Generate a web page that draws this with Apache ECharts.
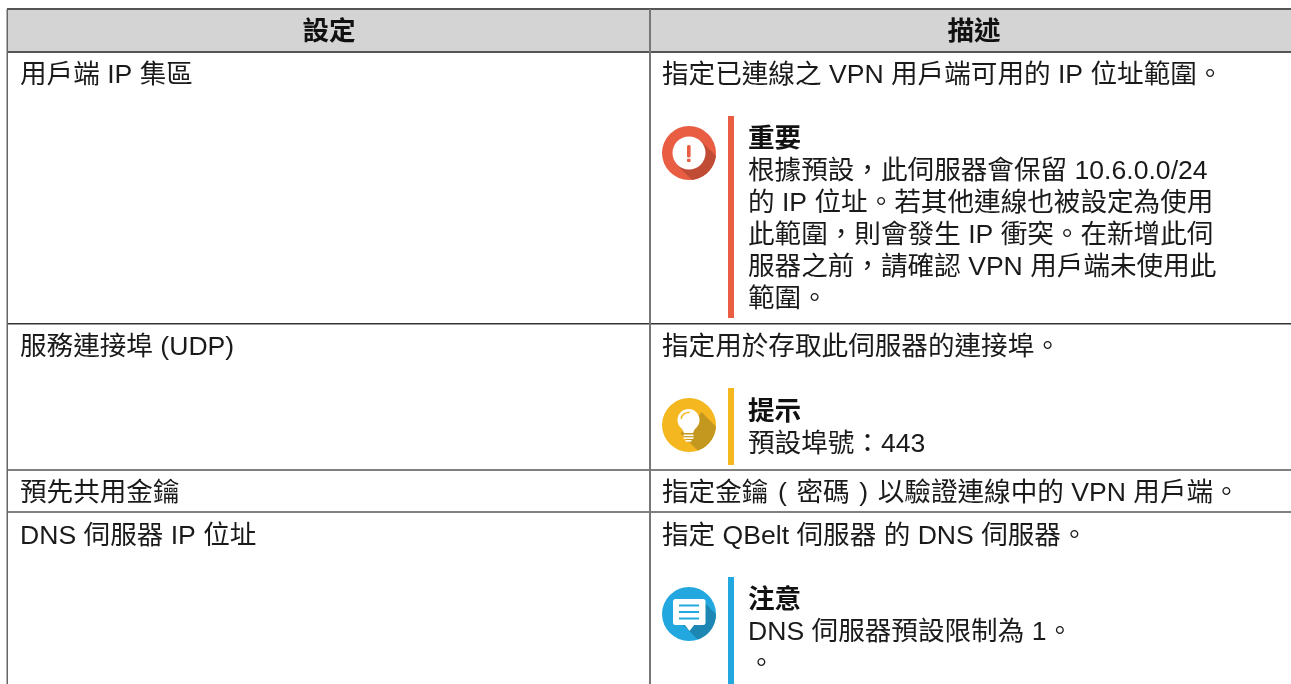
<!DOCTYPE html>
<html lang="zh-TW">
<head>
<meta charset="utf-8">
<style>html,body{margin:0;padding:0;background:#fff}#c{width:1291px;height:684px}</style>
<script src="https://cdn.jsdelivr.net/npm/echarts@6/dist/echarts.min.js"></script>
</head>
<body>
<div id="c" lang="zh-TW"></div>
<script>
const headers = ['設定', '描述'];
const settings = ['用戶端 IP 集區', '服務連接埠 (UDP)', '預先共用金鑰', 'DNS 伺服器 IP 位址'];
const descriptions = [
  '指定已連線之 VPN 用戶端可用的 IP 位址範圍。',
  '指定用於存取此伺服器的連接埠。',
  '指定金鑰 \u200A(\u200A 密碼 \u200A)\u200A 以驗證連線中的 VPN 用戶端。',
  '指定 QBelt 伺服器 的 DNS 伺服器。'
];
const noteTitles = ['重要', '提示', '注意'];
const importantLines = [
  '根據預設，此伺服器會保留 10.6.0.0/24',
  '的 IP 位址。若其他連線也被設定為使用',
  '此範圍，則會發生 IP 衝突。在新增此伺',
  '服器之前，請確認 VPN 用戶端未使用此',
  '範圍。'
];
const tipLines = ['預設埠號：443'];
const noticeLines = ['DNS 伺服器預設限制為 1。', '。'];

const FONT = '"Liberation Sans","Noto Sans CJK TC",sans-serif';
const SIZE = 26.6;
const g = [];
function rect(x, y, w, h, fill, r) {
  g.push({type:'rect', shape:{x, y, width:w, height:h, r:r||0}, style:{fill}});
}
function text(t, x, y, opt) {
  opt = opt || {};
  g.push({type:'text', x, y, style:{text:t, fill:opt.fill||'#1a1a1a',
    font:(opt.bold?'bold ':'')+SIZE+'px '+FONT, textAlign:opt.align||'left', textVerticalAlign:'middle'}});
}
function circle(cx, cy, r, fill) { g.push({type:'circle', shape:{cx, cy, r}, style:{fill}}); }
function longShadow(cx, cy, R, offA, offB, fill) {
  const s = Math.SQRT1_2;
  const pt = (off, along) => [cx + off*s + along*s, cy - off*s + along*s];
  const a0 = pt(offA, 0), b0 = pt(-offB, 0);
  const a1 = pt(offA, Math.sqrt(R*R-offA*offA)), b1 = pt(-offB, Math.sqrt(R*R-offB*offB));
  g.push({type:'polygon', shape:{points:arcPoints(cx, cy, R, a0, a1, b1, b0)}, style:{fill}});
}
function arcPoints(cx, cy, R, a0, a1, b1, b0) {
  const start = Math.atan2(a1[1]-cy, a1[0]-cx), end = Math.atan2(b1[1]-cy, b1[0]-cx);
  const pts = [a0];
  for (let i = 0; i <= 24; i++) {
    const t = start + (end-start)*i/24;
    pts.push([cx + R*Math.cos(t), cy + R*Math.sin(t)]);
  }
  pts.push(b0);
  return pts;
}

// table frame
const TOP = 9, HEAD_B = 52, COL = 650, LEFT = 7, W = 1291, H = 684;
const rowLines = [324, 470, 512];
rect(LEFT, TOP, W-LEFT, HEAD_B-TOP, '#d4d4d4');
rect(LEFT, TOP-1, W-LEFT, 2, '#555');
rect(LEFT, HEAD_B-1, W-LEFT, 2, '#555');
rowLines.forEach((y, i) => rect(LEFT, y-1, W-LEFT, i===0?1.5:2, i===0?'#333':'#808080'));
rect(LEFT-0.5, TOP, 1.5, H-TOP, '#666');
rect(COL-1, TOP, 2, H-TOP, '#777');

// header
text(headers[0], 329, 33, {bold:true, align:'center', fill:'#111'});
text(headers[1], 974, 33, {bold:true, align:'center', fill:'#111'});

// rows
const rowY = [76, 348, 493.5, 537];
settings.forEach((s, i) => text(s, 20, rowY[i]));
descriptions.forEach((s, i) => text(s, 662, rowY[i]));

// notes
const NX = 748, BAR_X = 728, BAR_W = 6, ICX = 689, R = 27, LH = 32;
const RED = '#e95d42', YEL = '#f4b71f', BLU = '#22a8df';
function note(title, lines, titleY, barTop, barBottom, color) {
  rect(BAR_X, barTop, BAR_W, barBottom-barTop, color);
  text(title, NX, titleY, {bold:true, fill:'#111'});
  lines.forEach((l, i) => text(l, NX, titleY + 32 + i*LH));
}
note(noteTitles[0], importantLines, 140, 116, 318, RED);
note(noteTitles[1], tipLines, 413, 388, 465, YEL);
note(noteTitles[2], noticeLines, 601, 577, 684, BLU);

// important icon
circle(ICX, 153, R, RED);
longShadow(ICX, 153, R, 17, 17, '#c04c35');
circle(ICX, 153, 16.5, '#fff');
rect(687, 145, 3.6, 12.5, RED, 1.5);
rect(687, 158.7, 3.6, 3.4, RED, 1);

// tip icon
circle(ICX, 425, R, YEL);
longShadow(ICX, 425, R, 18, 12, '#c4981f');
circle(688.5, 420, 11, '#fff');
g.push({type:'polygon', shape:{points:[[681,426],[696,426],[693,433],[684,433]]}, style:{fill:'#fff'}});
rect(683.5, 434.5, 10, 1.6, '#fff');
rect(683.5, 437.3, 10, 1.6, '#fff');
rect(685.5, 440, 6, 1.6, '#fff');
g.push({type:'arc', shape:{cx:688.5, cy:420, r:7.5, startAngle:Math.PI*1.05, endAngle:Math.PI*1.55}, style:{stroke:YEL, lineWidth:1.5, fill:null}});

// notice icon
circle(ICX, 614, R, BLU);
longShadow(ICX, 614, R, 19, 12, '#1e86b2');
rect(673, 599, 32.5, 26, '#fff', 2.5);
g.push({type:'polygon', shape:{points:[[684.5,624.5],[694.5,624.5],[689.5,631]]}, style:{fill:'#fff'}});
[604.5, 611, 617.5].forEach(y => rect(679, y, 20, 2, BLU));

const chart = echarts.init(document.getElementById('c'), null, {renderer:'canvas', width:1291, height:684});
chart.setOption({animation:false, backgroundColor:'#fff', graphic:{elements:g}});
</script>
</body>
</html>
